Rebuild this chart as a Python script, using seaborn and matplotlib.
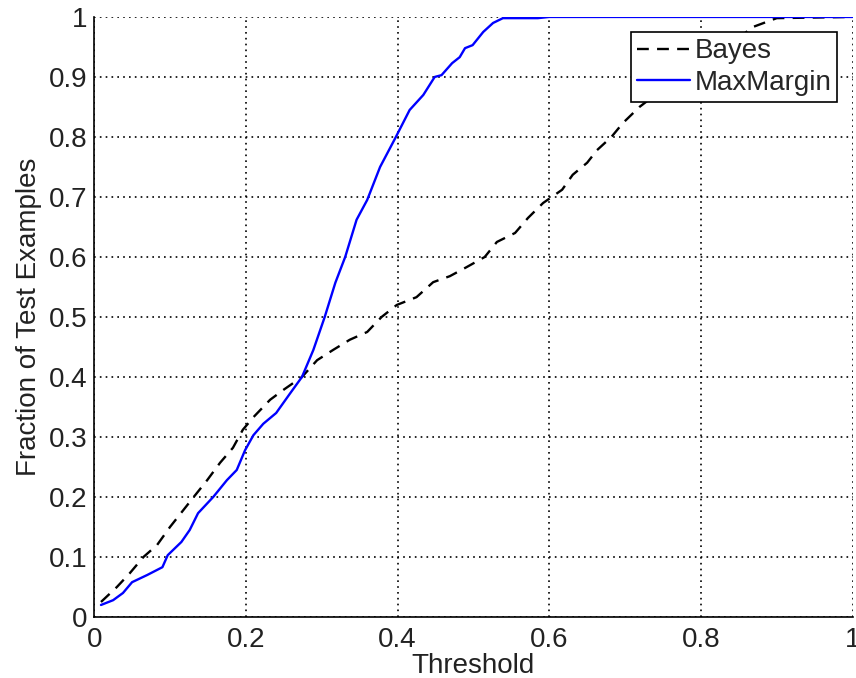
import matplotlib
matplotlib.use("Agg")
import matplotlib.pyplot as plt
import seaborn as sns
import pandas as pd

# values
bayes_x = [0.009, 0.03, 0.047, 0.065, 0.083, 0.1, 0.13, 0.149, 0.166, 0.183,
           0.196, 0.21, 0.232, 0.249, 0.274, 0.294, 0.315, 0.337, 0.36, 0.379,
           0.399, 0.425, 0.447, 0.469, 0.491, 0.515, 0.531, 0.555, 0.572, 0.592,
           0.617, 0.631, 0.65, 0.663, 0.682, 0.697, 0.719, 0.75, 0.8, 0.84,
           0.868, 0.9, 1.0]
bayes_y = [0.025, 0.05, 0.073, 0.1, 0.12, 0.15, 0.198, 0.228, 0.257, 0.282,
           0.312, 0.333, 0.362, 0.378, 0.40, 0.428, 0.445, 0.462, 0.475, 0.50,
           0.52, 0.533, 0.558, 0.568, 0.583, 0.60, 0.625, 0.64, 0.665, 0.69,
           0.712, 0.737, 0.757, 0.778, 0.80, 0.823, 0.85, 0.88, 0.92, 0.955,
           0.983, 0.998, 1.0]

maxmargin_x = [0.009, 0.025, 0.038, 0.05, 0.07, 0.09, 0.097, 0.115, 0.126, 0.137,
               0.157, 0.175, 0.188, 0.199, 0.21, 0.223, 0.24, 0.258, 0.274, 0.289,
               0.304, 0.318, 0.331, 0.346, 0.36, 0.377, 0.397, 0.416, 0.434, 0.449,
               0.458, 0.472, 0.482, 0.489, 0.499, 0.513, 0.526, 0.539, 0.56, 0.585,
               0.6, 1.0]
maxmargin_y = [0.02, 0.028, 0.04, 0.058, 0.07, 0.083, 0.103, 0.125, 0.145, 0.173,
               0.20, 0.228, 0.245, 0.278, 0.303, 0.322, 0.34, 0.372, 0.40, 0.445,
               0.50, 0.557, 0.60, 0.662, 0.695, 0.75, 0.798, 0.845, 0.87, 0.90,
               0.903, 0.923, 0.933, 0.948, 0.953, 0.975, 0.99, 0.998, 0.998, 0.998,
               1.0, 1.0]

x_ticks = [0, 0.2, 0.4, 0.6, 0.8, 1]
x_labels = ["0", "0.2", "0.4", "0.6", "0.8", "1"]
y_ticks = [0, 0.1, 0.2, 0.3, 0.4, 0.5, 0.6, 0.7, 0.8, 0.9, 1]
y_labels = ["0", "0.1", "0.2", "0.3", "0.4", "0.5", "0.6", "0.7", "0.8", "0.9", "1"]

sns.set_style("white")
plt.rcParams['font.family'] = ['Liberation Sans', 'DejaVu Sans']

fig = plt.figure(figsize=(8.56, 6.78), dpi=100)
ax = fig.add_axes([0.110, 0.090, 0.886, 0.885])

bayes = pd.DataFrame({'x': bayes_x, 'y': bayes_y})
mm = pd.DataFrame({'x': maxmargin_x, 'y': maxmargin_y})

sns.lineplot(data=bayes, x='x', y='y', ax=ax, color='black', lw=1.7,
             linestyle=(0, (5, 3.5)), estimator=None, sort=False, label='Bayes')
sns.lineplot(data=mm, x='x', y='y', ax=ax, color='#0000ff', lw=1.7,
             estimator=None, sort=False, label='MaxMargin')

ax.set_xlim(0, 1)
ax.set_ylim(0, 1)
ax.set_xticks(x_ticks)
ax.set_xticklabels(x_labels)
ax.set_yticks(y_ticks)
ax.set_yticklabels(y_labels)

# matlab-like dotted grid, box off
ax.grid(True, color='black', linestyle=(0, (1, 2.5)), linewidth=1.2)
ax.set_axisbelow(True)
for side in ['top', 'right']:
    ax.spines[side].set_visible(False)
for side in ['left', 'bottom']:
    ax.spines[side].set_color('black')
    ax.spines[side].set_linewidth(1.2)

ax.tick_params(axis='both', direction='in', length=6, width=1.1, color='black',
               labelsize=20, labelcolor='#222222')
ax.tick_params(axis='x', pad=7)
ax.tick_params(axis='y', pad=5)

ax.set_xlabel('Threshold', fontsize=20, labelpad=0, color='#222222')
ax.set_ylabel('Fraction of Test Examples', fontsize=20, labelpad=5, color='#222222')

leg = ax.legend(loc='upper right', fontsize=20, frameon=True, fancybox=False,
                framealpha=1, edgecolor='black', handlelength=1.9,
                handletextpad=0.15, borderpad=0.22, labelspacing=0.2,
                borderaxespad=0.55)
leg.get_frame().set_linewidth(1.2)

fig.savefig('out.png', dpi=100)
